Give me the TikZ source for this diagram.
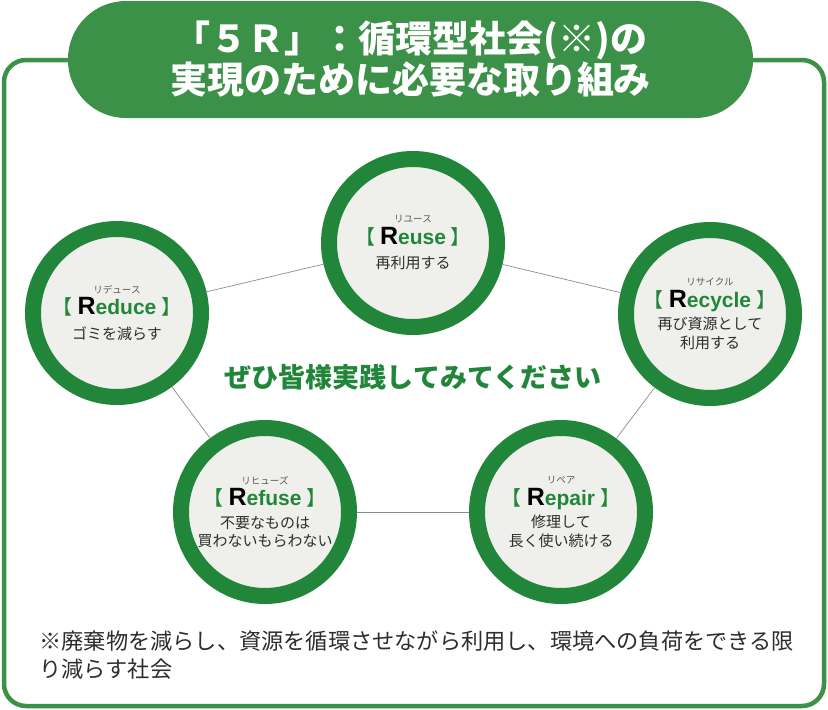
\documentclass[tikz,border=0pt]{standalone}
\usepackage{fontspec}
\setmainfont{Noto Sans CJK JP}
\newfontfamily\latinsf{Liberation Sans}
\usetikzlibrary{positioning}
\definecolor{ringgreen}{RGB}{34,134,58}
\definecolor{framegreen}{RGB}{60,145,72}
\definecolor{innergray}{RGB}{239,240,236}
\definecolor{textgray}{RGB}{45,45,45}
\newcommand{\kana}[1]{{\fontsize{9.5}{10}\selectfont\color{textgray!80}#1}}
\newcommand{\rname}[1]{{\fontsize{20}{22}\selectfont\color{ringgreen}【\kern5pt}%
  {\latinsf\bfseries\fontsize{25}{26}\selectfont\color{black}R}%
  {\latinsf\bfseries\fontsize{21}{24}\selectfont\color{ringgreen}#1}%
  {\fontsize{20}{22}\selectfont\color{ringgreen}\kern5pt】}}

\begin{document}
\begin{tikzpicture}[x=1pt, y=-1pt,
  ring/.style={circle, draw=ringgreen, line width=16pt, fill=innergray,
               minimum size=168pt, inner sep=0pt, align=center,
               font=\fontsize{15}{18.5}\selectfont, text=textgray},
  e/.style={draw=black!45, line width=0.7pt},
  head/.style={fill=framegreen, rounded corners=58pt, minimum width=685pt,
               minimum height=117pt, align=center, text=white,
               font=\fontsize{37}{41}\selectfont\bfseries},
  call/.style={text=ringgreen, font=\fontsize{27}{30}\selectfont\bfseries},
  note/.style={anchor=west, align=left, text=textgray,
               font=\fontsize{22.2}{28}\selectfont}]
\useasboundingbox (0,0) rectangle (828,710);

% frame and title
\draw[framegreen, line width=4.5pt, rounded corners=22pt] (4,60) rectangle (824,706);
\node[head] (title) at (410.5,59.5)
      {「５Ｒ」：循環型社会(※)の\\実現のために必要な取り組み};

% the five R
\node[ring] (ru) at (413,243)
      {\kana{リユース}\\[3pt] \rname{euse}\\[6pt] 再利用する};
\node[ring] (rd) at (117,313)
      {\kana{リデュース}\\[3pt] \rname{educe}\\[6pt] ゴミを減らす};
\node[ring] (rc) at (710,314)
      {\kana{リサイクル}\\[3pt] \rname{ecycle}\\[4pt] 再び資源として\\利用する};
\node[ring] (rf) at (265,512)
      {\kana{リヒューズ}\\[3pt] \rname{efuse}\\[4pt] 不要なものは\\買わないもらわない};
\node[ring] (rp) at (561,512)
      {\kana{リペア}\\[3pt] \rname{epair}\\[4pt] 修理して\\長く使い続ける};

\draw[e] (rd) -- (ru);
\draw[e] (ru) -- (rc);
\draw[e] (rc) -- (rp);
\draw[e] (rp) -- (rf);
\draw[e] (rf) -- (rd);

\node[call] (msg) at (413,377) {ぜひ皆様実践してみてください};

\node[note] (fn) at (36,655)
      {※廃棄物を減らし、資源を循環させながら利用し、環境への負荷をできる限\\り減らす社会};

\end{tikzpicture}
\end{document}
